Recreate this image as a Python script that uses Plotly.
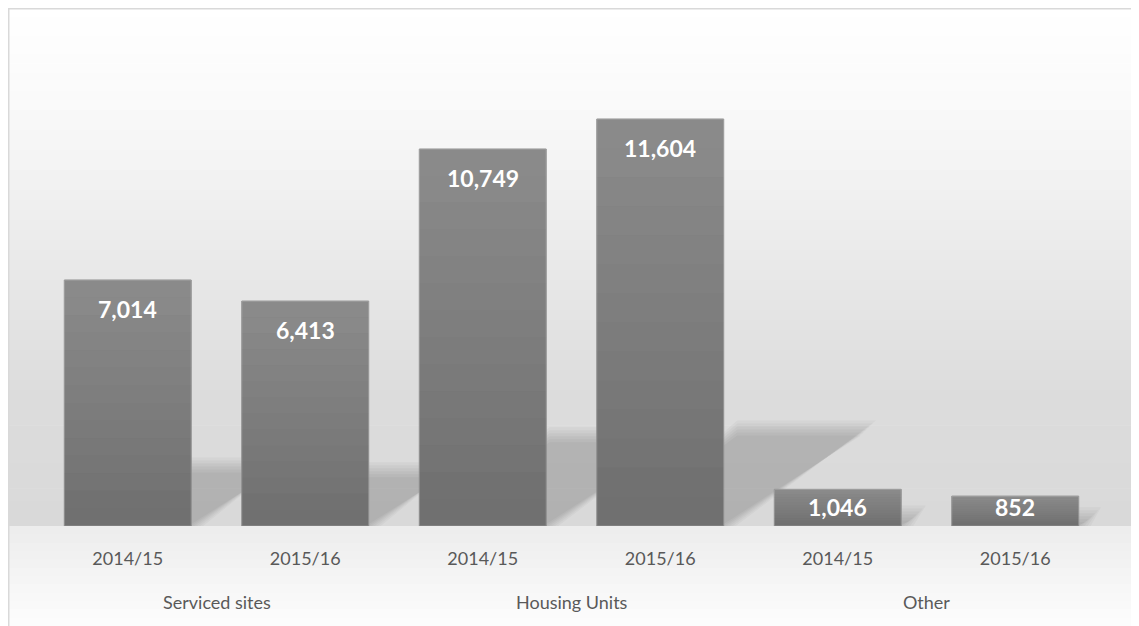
import plotly.graph_objects as go

# ---- data ----
group_names = ["Serviced sites", "Housing Units", "Other"]
years = ["2014/15", "2015/16"]
values = [7014, 6413, 10749, 11604, 1046, 852]

# ---- layout constants (page has an 8px body margin) ----
OFF = 8
W, H = 1139 - OFF, 626 - OFF
ML, MR, MT, MB = 31, 35, 27, 100
YMAX = 14000
BAR_W = 0.715
TEXT = "#595959"
FONT = "Lato"

plot_w = W - ML - MR
plot_h = H - MT - MB
px_per_unit = plot_h / YMAX
px_per_x = plot_w / len(values)


def py_paper(py):
    """figure pixel y (from top) -> paper coordinate"""
    return (H - MB - py) / plot_h


def px_paper(px):
    return (px - ML) / plot_w


x_pos = list(range(len(values)))
tick_text = [years[i % len(years)] for i in range(len(values))]

fig = go.Figure()
fig.add_trace(go.Bar(
    x=x_pos, y=values, width=BAR_W,
    marker=dict(color="#6f6f6f", line=dict(color="#8e8e8e", width=1)),
    hoverinfo="skip", showlegend=False,
))

shapes = []
bottom = H - MB
# background gradient (paper)
stops = [(0, 255), (92, 250), (192, 240), (292, 229), (392, 220), (bottom, 217)]
for (y0, c0), (y1, c1) in zip(stops[:-1], stops[1:]):
    n = 10
    for k in range(n):
        a = y0 + (y1 - y0) * k / n
        b = y0 + (y1 - y0) * (k + 1) / n
        c = round(c0 + (c1 - c0) * (k + 0.5) / n)
        shapes.append(dict(type="rect", xref="paper", yref="paper", layer="below",
                           x0=px_paper(0), x1=px_paper(W + 5), y0=py_paper(a), y1=py_paper(b + 0.6),
                           fillcolor=f"rgb({c},{c},{c})", line=dict(width=0)))
n = 12
for k in range(n):
    a = bottom + MB * k / n
    b = bottom + MB * (k + 1) / n
    c = round(236 + 17 * (k + 0.5) / n)
    shapes.append(dict(type="rect", xref="paper", yref="paper", layer="below",
                       x0=px_paper(0), x1=px_paper(W + 5), y0=py_paper(a), y1=py_paper(b + 0.6),
                       fillcolor=f"rgb({c},{c},{c})", line=dict(width=0)))

# bar shadows (derived from values), soft edges via layered translucent paths
blur_px = [12, 9, 6, 3, 0, -3]
for i, v in enumerate(values):
    h = 0.23 * v
    dx = 1.5 * h * px_per_unit / px_per_x
    xl, xr = i - BAR_W / 2, i + BAR_W / 2
    for b in blur_px:
        gx = b / px_per_x
        gy = b / px_per_unit
        top = max(h + gy, 0)
        path = (f"M {xl + 0.1},0 L {xr + gx},0 "
                f"L {xr + dx + gx},{top} L {xl + dx},{top} Z")
        shapes.append(dict(type="path", xref="x", yref="y", layer="below", path=path,
                           fillcolor="rgba(0,0,0,0.032)", line=dict(width=0)))

# gradient on bars (derived from values)
nb = 14
for i, v in enumerate(values):
    xl, xr = i - BAR_W / 2, i + BAR_W / 2
    for k in range(nb):
        alpha = 0.2 * (k + 0.5) / nb
        shapes.append(dict(type="rect", xref="x", yref="y", layer="above",
                           x0=xl, x1=xr, y0=v * k / nb, y1=v * (k + 1) / nb,
                           fillcolor=f"rgba(255,255,255,{alpha:.3f})", line=dict(width=0)))

# frame
shapes.append(dict(type="rect", xref="paper", yref="paper", layer="above",
                   x0=px_paper(0.5), x1=px_paper(W + 10), y0=py_paper(0.5), y1=py_paper(H + 10),
                   fillcolor="rgba(0,0,0,0)", line=dict(color="#d9d9d9", width=2)))

annotations = []
for i, v in enumerate(values):
    hpx = v * px_per_unit
    shift = min(29, hpx - 19)
    annotations.append(dict(x=i, y=v, xref="x", yref="y", text=f"{v:,}", showarrow=False,
                            yanchor="middle", yshift=-shift,
                            font=dict(family=FONT, size=23, color="white", weight="bold")))
for g, name in enumerate(group_names):
    annotations.append(dict(x=2 * g + 0.5, y=py_paper(602 - OFF), xref="x", yref="paper", text=name,
                            showarrow=False, yanchor="middle",
                            font=dict(family=FONT, size=18, color=TEXT)))

fig.update_layout(
    width=W, height=H,
    margin=dict(l=ML, r=MR, t=MT, b=MB),
    paper_bgcolor="white", plot_bgcolor="rgba(0,0,0,0)",
    shapes=shapes, annotations=annotations,
    xaxis=dict(range=[-0.5, len(values) - 0.5], tickvals=x_pos, ticktext=tick_text,
               showgrid=False, zeroline=False, showline=False, ticks="",
               ticklabelstandoff=20,
               tickfont=dict(family=FONT, size=18, color=TEXT)),
    yaxis=dict(range=[0, YMAX], visible=False),
    bargap=0.285,
)

fig.write_html("out.html")
